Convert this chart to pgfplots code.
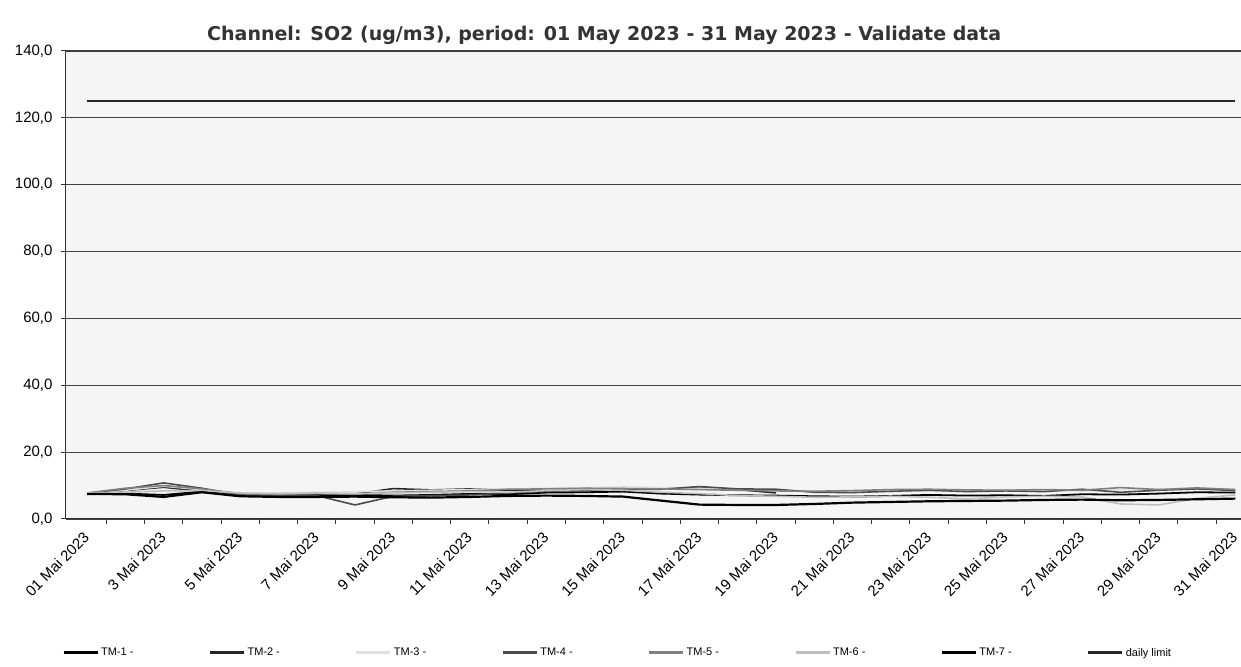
\documentclass[border=0pt]{standalone}
\usepackage{fontspec}
\setmainfont{Liberation Sans}
\newfontfamily\titlefont{DejaVu Sans}
\usepackage{pgfplots}
\pgfplotsset{compat=1.18}
\usepackage{pgfplotstable}

\pgfplotstableread{
day tma tmb tmc tmd tme tmf tmg lim
1  7.6 7.5 7.6 7.6 7.8 7.8 7.5 125
2  7.6 8.5 8.6 9.0 9.2 8.0 7.4 125
3  7.2 9.5 9.8 10.8 10.0 8.4 6.6 125
4  8.2 8.3 8.8 9.2 9.0 8.5 8.0 125
5  7.0 7.0 7.6 7.2 7.6 7.8 6.8 125
6  7.0 7.2 7.8 7.0 7.4 7.6 6.6 125
7  7.1 7.4 8.0 7.0 7.6 7.8 6.6 125
8  7.2 7.5 8.2 4.2 7.4 7.6 6.7 125
9  7.0 9.1 8.4 6.8 8.0 7.8 6.5 125
10 7.2 8.7 8.6 7.0 8.2 8.0 6.4 125
11 7.5 9.0 8.8 7.2 8.4 8.2 6.6 125
12 7.4 8.6 9.0 7.8 8.9 8.0 6.9 125
13 7.9 8.4 9.2 8.3 9.0 8.5 7.0 125
14 8.0 8.8 9.4 8.6 9.2 8.8 6.9 125
15 8.2 9.2 9.6 8.8 9.1 8.6 6.7 125
16 7.6 9.0 9.4 8.9 9.0 8.0 5.5 125
17 7.3 9.5 9.2 9.7 8.8 7.6 4.3 125
18 7.1 8.8 9.0 9.0 8.6 7.0 4.2 125
19 7.0 7.8 8.6 8.9 8.4 6.8 4.2 125
20 6.8 nan 8.2 8.0 8.3 6.5 4.5 125
21 6.7 nan 8.0 7.9 8.5 6.6 4.9 125
22 6.9 nan 8.2 8.3 8.8 6.8 5.1 125
23 7.2 nan 8.4 8.6 8.9 6.5 5.3 125
24 7.0 nan 8.6 8.2 8.7 6.0 5.4 125
25 7.1 nan 8.8 8.4 8.6 6.6 5.5 125
26 6.9 nan 8.6 8.2 8.8 6.8 5.7 125
27 7.4 nan 8.4 8.9 8.6 6.6 5.8 125
28 7.3 nan 8.8 8.0 9.4 4.5 5.6 125
29 7.6 nan 9.0 8.6 8.8 4.2 5.7 125
30 8.0 nan 9.2 9.0 9.3 6.2 5.9 125
31 7.9 nan 9.0 8.5 8.8 7.2 6.1 125
}\data

\begin{document}
\begin{tikzpicture}
\useasboundingbox (0,0) rectangle (1241pt,666pt);
\begin{axis}[
  at={(66pt,147pt)}, anchor=south west,
  scale only axis, width=1175pt, height=468pt,
  xmin=0.45, xmax=31.15, ymin=0, ymax=140,
  axis x line*=bottom, axis y line*=left,
  axis line style={black!80, line width=1pt},
  axis background/.style={fill=black!4},
  ytick={0,20,...,140},
  minor ytick={0,20,...,140},
  ymajorgrids, major grid style={black!75, line width=1.1pt},
  xtick={1,3,...,31},
  xticklabels={01 Mai 2023,3 Mai 2023,5 Mai 2023,7 Mai 2023,9 Mai 2023,11 Mai 2023,13 Mai 2023,15 Mai 2023,17 Mai 2023,19 Mai 2023,21 Mai 2023,23 Mai 2023,25 Mai 2023,27 Mai 2023,29 Mai 2023,31 Mai 2023},
  minor xtick={1.5,2.5,...,30.5},
  tick align=outside, tick pos=left,
  major tick length=0pt, minor tick length=5pt,
  every tick/.style={black!80, line width=1pt},
  xticklabel style={rotate=45, anchor=north east, font=\fontsize{15}{15}\selectfont, inner sep=1pt, yshift=-4.1pt, xshift=-10.6pt},
  yticklabel style={font=\fontsize{15}{15}\selectfont, xshift=-10pt, /pgf/number format/.cd, fixed, fixed zerofill, precision=1, use comma, assume math mode=true},
  title={Channel: SO2 (ug/m3), period: 01 May 2023 - 31 May 2023 - Validate data},
  title style={font=\titlefont\bfseries\fontsize{19}{21}\selectfont, text=black!80, at={(0.458,1)}, anchor=south, yshift=-3pt},
  unbounded coords=jump,
  legend columns=8,
  legend style={at={(-0.006,-0.286)}, anchor=west, draw=none, fill=none, font=\fontsize{11}{12}\selectfont, /tikz/every even column/.append style={column sep=73pt}},
  legend image code/.code={\draw[#1, line width=3pt] (0pt,0pt) -- (34pt,0pt);},
]
\addplot[black, line width=1.8pt] table[x=day, y=tma] {\data};
\addlegendentry{TM-1 -}
\addplot[black!85, line width=1.6pt] table[x=day, y=tmb] {\data};
\addlegendentry{TM-2 -}
\addplot[black!12, line width=1.6pt] table[x=day, y=tmc] {\data};
\addlegendentry{TM-3 -}
\addplot[black!70, line width=1.6pt] table[x=day, y=tmd] {\data};
\addlegendentry{TM-4 -}
\addplot[black!50, line width=1.6pt] table[x=day, y=tme] {\data};
\addlegendentry{TM-5 -}
\addplot[black!25, line width=1.6pt] table[x=day, y=tmf] {\data};
\addlegendentry{TM-6 -}
\addplot[black, line width=2.2pt] table[x=day, y=tmg] {\data};
\addlegendentry{TM-7 -}
\addplot[black!85, line width=2.6pt] table[x=day, y=lim] {\data};
\addlegendentry{daily limit}
\end{axis}
\end{tikzpicture}
\end{document}
